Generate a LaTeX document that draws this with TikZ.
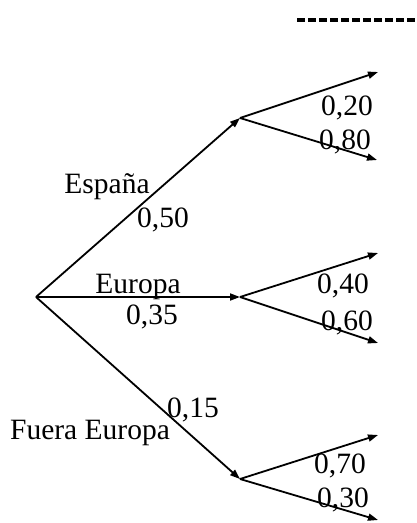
\documentclass[tikz,border=0pt]{standalone}
\usepackage{fontspec}
\setmainfont{Liberation Serif}
\usetikzlibrary{arrows.meta}
\begin{document}
\begin{tikzpicture}[x=1pt,y=-1pt,
  branch/.style={line width=1.8pt,-{Triangle[length=10pt,width=7pt]}},
  lbl/.style={inner sep=0pt,anchor=base,font=\fontsize{29.5}{32}\selectfont}]
\useasboundingbox (0,0) rectangle (417,523);
\draw[line width=3.2pt,dash pattern=on 8pt off 3pt] (297,20) -- (417,20);
\coordinate (root) at (36,297);
\coordinate (A) at (240,118);
\coordinate (B) at (240,297);
\coordinate (C) at (240,479);
\coordinate (a1) at (378,72);
\coordinate (a2) at (377,160);
\coordinate (b1) at (378,253);
\coordinate (b2) at (378,343);
\coordinate (c1) at (378,435);
\coordinate (c2) at (378,520);
\draw[branch] (root) -- (A);
\draw[branch] (root) -- (B);
\draw[branch] (root) -- (C);
\draw[branch] (A) -- (a1);
\draw[branch] (A) -- (a2);
\draw[branch] (B) -- (b1);
\draw[branch] (B) -- (b2);
\draw[branch] (C) -- (c1);
\draw[branch] (C) -- (c2);
\node[lbl] (tEsp) at (107,193) {España};
\node[lbl] (p50) at (163,227) {0,50};
\node[lbl] (tEur) at (138,293) {Europa};
\node[lbl] (p35) at (152,324) {0,35};
\node[lbl] (p15) at (193,417) {0,15};
\node[lbl] (tFue) at (90,439) {Fuera Europa};
\node[lbl] (p20) at (347,115) {0,20};
\node[lbl] (p80) at (345,149) {0,80};
\node[lbl] (p40) at (343,293) {0,40};
\node[lbl] (p60) at (347,330) {0,60};
\node[lbl] (p70) at (340,473) {0,70};
\node[lbl] (p30) at (343,507) {0,30};
\end{tikzpicture}
\end{document}
